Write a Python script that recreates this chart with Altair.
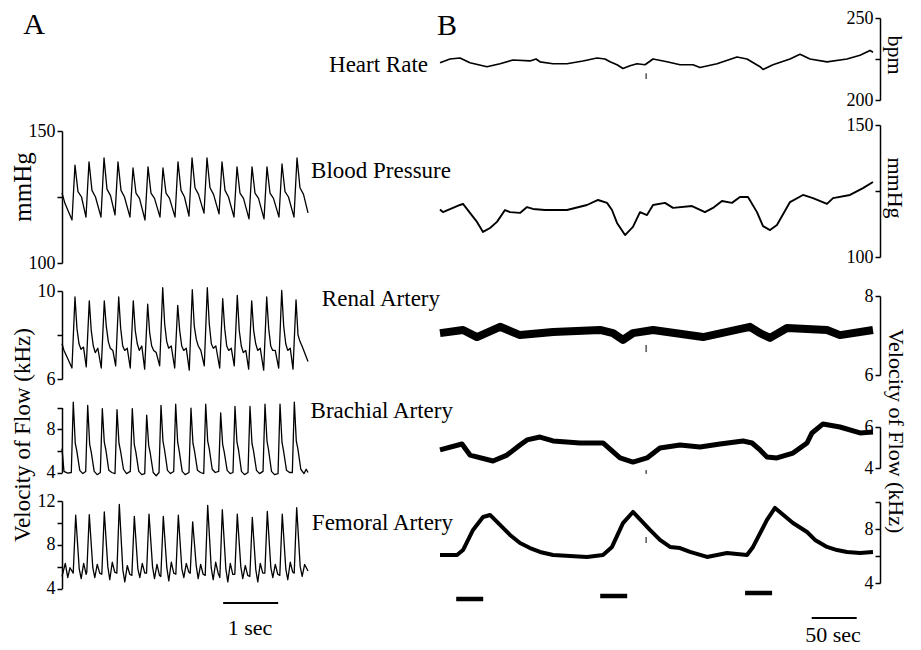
import altair as alt
import pandas as pd

FONT = "Liberation Serif"

# ---------------- Panel A (time in seconds) ----------------
bp_a_t = [0, 0.055, 0.182, 0.236, 0.291, 0.355, 0.436, 0.491, 0.545, 0.609, 0.709, 0.764, 0.818, 0.882,
          0.964, 1.018, 1.073, 1.136, 1.236, 1.291, 1.345, 1.409, 1.509, 1.564, 1.618, 1.682, 1.782, 1.836,
          1.891, 1.955, 2.055, 2.109, 2.164, 2.227, 2.309, 2.364, 2.418, 2.482, 2.582, 2.636, 2.691, 2.755,
          2.855, 2.909, 2.964, 3.027, 3.127, 3.182, 3.236, 3.300, 3.400, 3.455, 3.509, 3.573, 3.673, 3.727,
          3.782, 3.845, 3.945, 4.000, 4.055, 4.118, 4.218, 4.273, 4.327, 4.391, 4.473]
bp_a_v = [126.5, 122.5, 116.3, 137.1, 127.0, 125.0, 117.4, 138.3, 127.5, 125.0, 117.4, 139.8, 128.0, 125.5,
          118.2, 138.3, 127.5, 125.0, 117.4, 136.0, 126.5, 124.5, 116.3, 136.4, 126.5, 124.5, 117.4, 136.0,
          126.5, 124.5, 117.4, 138.3, 127.5, 125.0, 117.8, 139.8, 128.5, 126.0, 118.9, 139.8, 128.5, 126.0,
          118.6, 138.3, 127.5, 125.0, 117.4, 136.4, 126.5, 124.5, 116.7, 136.4, 126.5, 124.5, 116.7, 136.4,
          126.5, 124.5, 117.4, 137.5, 127.0, 125.0, 117.4, 139.8, 128.5, 126.0, 119.0]

renal_a_t = [0, 0.036, 0.091, 0.181,
             0.236, 0.272, 0.309, 0.345, 0.391, 0.441,
             0.496, 0.532, 0.569, 0.605, 0.651, 0.714,
             0.769, 0.805, 0.842, 0.878, 0.924, 0.976,
             1.031, 1.067, 1.104, 1.140, 1.186, 1.241,
             1.296, 1.332, 1.369, 1.405, 1.451, 1.503,
             1.558, 1.594, 1.631, 1.667, 1.713, 1.776,
             1.831, 1.867, 1.904, 1.940, 1.986, 2.049,
             2.104, 2.140, 2.177, 2.213, 2.259, 2.314,
             2.369, 2.405, 2.442, 2.478, 2.524, 2.587,
             2.642, 2.678, 2.715, 2.751, 2.797, 2.867,
             2.922, 2.958, 2.995, 3.031, 3.077, 3.132,
             3.187, 3.223, 3.260, 3.296, 3.342, 3.394,
             3.449, 3.485, 3.522, 3.558, 3.604, 3.667,
             3.722, 3.758, 3.795, 3.831, 3.877, 3.940,
             3.995, 4.031, 4.068, 4.104, 4.150, 4.200,
             4.255, 4.291, 4.328, 4.364, 4.473]
renal_a_v = [7.6, 7.3, 7.0, 6.5,
             9.73, 8.3, 7.6, 7.35, 7.45, 6.55,
             9.55, 8.2, 7.5, 7.2, 7.4, 6.5,
             9.55, 8.4, 7.7, 7.4, 7.3, 6.6,
             9.73, 8.3, 7.5, 7.3, 7.4, 6.5,
             9.55, 8.2, 7.6, 7.3, 7.5, 6.45,
             9.4, 8.1, 7.5, 7.3, 7.2, 6.6,
             10.15, 8.5, 7.7, 7.4, 7.5, 6.5,
             9.35, 8.2, 7.5, 7.3, 7.4, 6.4,
             10.06, 8.4, 7.8, 7.5, 7.3, 6.6,
             10.15, 8.5, 7.6, 7.4, 7.5, 6.5,
             9.65, 8.3, 7.5, 7.3, 7.4, 6.6,
             9.8, 8.2, 7.5, 7.2, 7.3, 6.45,
             9.55, 8.2, 7.6, 7.3, 7.4, 6.4,
             9.73, 8.3, 7.5, 7.3, 7.3, 6.5,
             10.03, 8.4, 7.6, 7.3, 7.4, 6.45,
             9.6, 8.0, 7.7, 7.5, 6.8]

brach_a_t = [0, 0.036, 0.1,
             0.169, 0.205, 0.241, 0.269, 0.323, 0.378,
             0.431, 0.467, 0.503, 0.531, 0.585, 0.640,
             0.697, 0.733, 0.769, 0.797, 0.851, 0.906,
             0.964, 1.0, 1.036, 1.064, 1.118, 1.173,
             1.242, 1.278, 1.314, 1.342, 1.396, 1.451,
             1.504, 1.54, 1.576, 1.604, 1.658, 1.713,
             1.764, 1.8, 1.836, 1.864, 1.918, 1.973,
             2.031, 2.067, 2.103, 2.131, 2.185, 2.240,
             2.309, 2.345, 2.381, 2.409, 2.463, 2.518,
             2.577, 2.613, 2.649, 2.677, 2.731, 2.786,
             2.849, 2.885, 2.921, 2.949, 3.003, 3.058,
             3.109, 3.145, 3.181, 3.209, 3.263, 3.318,
             3.382, 3.418, 3.454, 3.482, 3.536, 3.591,
             3.655, 3.691, 3.727, 3.755, 3.809, 3.864,
             3.928, 3.964, 4.000, 4.028, 4.082, 4.137,
             4.188, 4.224, 4.260, 4.288, 4.342, 4.400, 4.440, 4.473]
brach_a_v = [6.2, 4.1, 3.95,
             4.0, 10.5, 6.7, 6.0, 4.2, 3.9,
             4.1, 10.2, 6.6, 5.9, 4.1, 3.8,
             4.0, 9.9, 6.8, 6.1, 4.2, 4.0,
             3.9, 9.8, 6.7, 6.0, 4.3, 3.9,
             4.1, 9.9, 6.6, 5.9, 4.1, 3.8,
             3.9, 9.3, 6.5, 5.8, 4.0, 3.7,
             4.0, 10.2, 6.9, 6.1, 4.2, 3.9,
             4.1, 10.3, 6.8, 6.0, 4.1, 3.8,
             4.0, 9.95, 6.7, 6.0, 4.2, 4.0,
             3.9, 10.3, 6.9, 6.2, 4.3, 4.0,
             4.1, 9.5, 6.6, 5.9, 4.2, 3.9,
             4.0, 10.1, 6.8, 6.1, 4.1, 3.8,
             4.0, 10.1, 6.7, 6.0, 4.2, 3.9,
             4.1, 10.3, 6.9, 6.1, 4.1, 3.8,
             3.9, 10.3, 6.8, 6.0, 4.2, 4.0,
             4.0, 10.5, 6.9, 6.2, 4.3, 3.9, 4.3, 4.0]

fem_a_t = [0, 0.06, 0.105, 0.145,
           0.204, 0.249, 0.313, 0.349, 0.394, 0.439,
           0.451, 0.496, 0.560, 0.596, 0.641, 0.686,
           0.724, 0.769, 0.833, 0.869, 0.914, 0.959,
           0.997, 1.042, 1.106, 1.142, 1.187, 1.232,
           1.270, 1.315, 1.379, 1.415, 1.460, 1.505,
           1.537, 1.582, 1.646, 1.682, 1.727, 1.772,
           1.797, 1.842, 1.906, 1.942, 1.987, 2.032,
           2.070, 2.115, 2.179, 2.215, 2.260, 2.305,
           2.331, 2.376, 2.440, 2.476, 2.521, 2.566,
           2.604, 2.649, 2.713, 2.749, 2.794, 2.839,
           2.870, 2.915, 2.979, 3.015, 3.060, 3.105,
           3.142, 3.187, 3.251, 3.287, 3.332, 3.377,
           3.415, 3.460, 3.524, 3.560, 3.605, 3.650,
           3.688, 3.733, 3.797, 3.833, 3.878, 3.923,
           3.960, 4.005, 4.069, 4.105, 4.150, 4.195,
           4.222, 4.267, 4.331, 4.367, 4.412, 4.473]
fem_a_v = [5.1, 6.3, 5.0, 5.9,
           5.4, 10.7, 5.8, 4.9, 6.3, 5.3,
           5.5, 10.75, 5.9, 5.0, 6.2, 5.4,
           5.3, 11.0, 6.0, 4.8, 6.4, 5.5,
           5.4, 11.7, 5.7, 4.6, 6.1, 5.3,
           5.2, 10.6, 5.8, 5.0, 6.3, 5.4,
           5.4, 10.8, 6.0, 4.9, 6.2, 5.2,
           5.1, 10.6, 5.9, 4.7, 6.4, 5.4,
           5.3, 10.7, 5.8, 5.0, 6.3, 5.5,
           5.4, 10.1, 6.1, 4.9, 6.2, 5.3,
           5.2, 11.6, 5.9, 4.8, 6.4, 5.4,
           5.0, 11.2, 5.8, 4.6, 6.3, 5.3,
           5.3, 10.8, 6.0, 4.9, 6.1, 5.2,
           5.1, 10.5, 5.7, 4.6, 6.3, 5.4,
           5.4, 11.05, 5.9, 5.0, 6.2, 5.3,
           5.2, 10.8, 5.8, 4.8, 6.4, 5.5,
           5.4, 11.4, 6.0, 5.1, 6.2, 5.6]

scalebar_a = [2.93, 3.93]          # 1 s

# ---------------- Panel B (time in seconds) ----------------
hr_t = [0, 11.1, 22.2, 33.3, 52.2, 66.7, 81.1, 100, 106.7, 111.1, 125.6, 141.1, 158.9, 174.4, 183.3,
        188.9, 196.7, 203.3, 211.1, 218.9, 227.8, 236.7, 252.2, 266.7, 281.1, 288.9, 307.8, 330, 341.1,
        355.6, 358.9, 370, 388.9, 400, 411.1, 430, 452.2, 466.7, 477.8, 481.1]
hr_v = [222.7, 225.0, 225.6, 222.7, 220.3, 222.1, 224.4, 223.8, 225.0, 223.3, 222.1, 222.1, 223.8, 225.6,
        225.0, 223.3, 221.5, 219.2, 220.9, 222.1, 221.5, 225.0, 223.3, 221.5, 221.5, 219.8, 222.1, 226.2,
        225.0, 220.3, 218.6, 221.5, 225.0, 227.9, 225.0, 223.3, 225.0, 227.3, 230.2, 229.1]

bp_b_t = [0, 3.3, 22.2, 25.6, 33.3, 41.1, 47.8, 55.6, 63.3, 72.2, 77.8, 88.9, 96.7, 103.3, 116.7, 141.1,
          163.3, 175.6, 185.6, 191.1, 196.7, 205.6, 214.4, 222.2, 230, 236.7, 250, 258.9, 280, 294.4, 303.3,
          313.3, 324.4, 333.3, 342.2, 352.2, 358.9, 366.7, 374.4, 388.9, 403.3, 414.4, 430, 436.7, 455.6,
          470, 481.1]
bp_b_v = [118.0, 117.0, 119.7, 120.1, 116.7, 113.3, 109.5, 111.0, 113.3, 117.8, 117.0, 116.7, 118.9, 118.2,
          117.8, 117.8, 119.7, 121.6, 120.5, 117.8, 112.9, 108.3, 111.4, 117.0, 115.9, 119.7, 120.5, 118.6,
          119.3, 117.0, 118.6, 121.2, 120.5, 122.7, 122.7, 117.0, 111.7, 110.2, 112.1, 120.8, 123.5, 122.3,
          120.1, 122.3, 123.5, 126.1, 128.4]

renal_b_t = [0, 25.6, 41.1, 66.7, 88.9, 125.6, 177.8, 192.2, 203.3, 214.4, 236.7, 292.2, 318.9, 344.4,
             355.6, 366.7, 385.6, 430, 444.4, 481.1]
renal_b_v = [7.06, 7.14, 6.96, 7.22, 7.01, 7.09, 7.14, 7.06, 6.89, 7.06, 7.14, 6.96, 7.09, 7.22, 7.06,
             6.94, 7.19, 7.14, 7.01, 7.14]

brach_b_t = [0, 24.4, 33.3, 58.9, 74.4, 88.9, 96.7, 111.1, 125.6, 155.6, 181.1, 200, 214.4, 230, 244.4,
             266.7, 288.9, 311.1, 336.7, 346.7, 355.6, 363.3, 374.4, 392.2, 400, 407.8, 413.3, 425.6, 444.4,
             466.7, 481.1]
brach_b_v = [4.88, 5.17, 4.63, 4.34, 4.63, 5.12, 5.37, 5.51, 5.32, 5.22, 5.22, 4.49, 4.29, 4.49, 4.98,
             5.12, 5.02, 5.17, 5.32, 5.22, 4.88, 4.54, 4.49, 4.73, 4.98, 5.22, 5.71, 6.15, 6.0, 5.71, 5.76]

fem_b_t = [0, 18.9, 25.6, 36.7, 47.8, 55.6, 66.7, 77.8, 88.9, 100, 111.1, 125.6, 163.3, 181.1, 191.1, 203.3,
           214.4, 233.3, 244.4, 255.6, 266.7, 277.8, 296.7, 318.9, 341.1, 347.8, 363.3, 372.2, 392.2, 407.8,
           416.7, 430, 441.1, 452.2, 466.7, 481.1]
fem_b_v = [6.07, 6.07, 6.44, 7.93, 8.89, 9.04, 8.30, 7.56, 6.96, 6.59, 6.30, 6.07, 5.93, 6.07, 6.67, 8.44,
           9.26, 7.93, 7.19, 6.67, 6.59, 6.30, 5.93, 6.22, 6.07, 6.67, 8.67, 9.56, 8.44, 7.78, 7.19, 6.67,
           6.44, 6.30, 6.22, 6.30]

# event marker seen in every panel-B trace (time, low, high)
marker_t = 229
hr_marker = [212.8, 216.3]
renal_marker = [6.58, 6.76]
brach_marker = [3.71, 3.9]
fem_marker = [6.96, 7.41]

stim_start = [18, 178, 339]
stim_end = [48, 208, 369]
scalebar_b = [413, 463]            # 50 s

# ---------------- helpers ----------------
XA = alt.Scale(domain=[0, 4.5], range=[0, 247.5], nice=False, zero=False)
XB = alt.Scale(domain=[0, 500], range=[378, 828], nice=False, zero=False)


def yaxis(ticks, labels, offset):
    return alt.Axis(orient="left", offset=offset, values=ticks, title=None, grid=False, format="d",
                    labelExpr=f"indexof({labels}, datum.value) >= 0 ? datum.label : ''",
                    domainColor="black", domainWidth=1.5, tickColor="black", tickWidth=1.5,
                    tickSize=5, labelFont=FONT, labelFontSize=18, labelColor="black",
                    labelPadding=2, labelOverlap=False, labelFlush=False)


def yscale(ydom, yrange):
    return alt.Scale(domain=ydom, range=yrange, nice=False, zero=False)


def trace(t, v, xs, ydom, yrange, ticks, labels, offset, sw):
    df = pd.DataFrame({"t": t, "v": v})
    return alt.Chart(df).mark_line(color="black", strokeWidth=sw, strokeJoin="round").encode(
        x=alt.X("t:Q", scale=xs, axis=None),
        y=alt.Y("v:Q", scale=yscale(ydom, yrange), axis=yaxis(ticks, labels, offset)),
        order="t:Q",
    )


def marker(lohi, ydom, yrange):
    df = pd.DataFrame({"t": [marker_t], "lo": [lohi[0]], "hi": [lohi[1]]})
    return alt.Chart(df).mark_rule(color="black", strokeWidth=1).encode(
        x=alt.X("t:Q", scale=XB, axis=None),
        y=alt.Y("lo:Q", scale=yscale(ydom, yrange), axis=None),
        y2="hi:Q",
    )


def label(text, x, y, size=23, align="right", angle=0, baseline="alphabetic"):
    return alt.Chart(alt.Data(values=[{}])).mark_text(
        text=text, font=FONT, fontSize=size, align=align, baseline=baseline, angle=angle, color="black"
    ).encode(x=alt.value(x), y=alt.value(y))


def bar(starts, ends, xs, y, sw):
    df = pd.DataFrame({"s": starts, "e": ends})
    return alt.Chart(df).mark_rule(color="black", strokeWidth=sw).encode(
        x=alt.X("s:Q", scale=xs, axis=None), x2="e:Q", y=alt.value(y))


OB = -818  # panel B axes sit at the right edge

R_BPA, R_RA, R_BA, R_FA = [245, 113], [361, 273], [454.5, 389.5], [570.5, 483]
R_HR, R_BPB, R_RB, R_BB, R_FB = [82, 0], [239, 107], [357, 278], [450, 409], [565, 484]

layers = [
    trace(bp_a_t, bp_a_v, XA, [100, 150], R_BPA, [100, 125, 150], [100, 150], 0, 1.3),
    trace(renal_a_t, renal_a_v, XA, [6, 10], R_RA, [6, 8, 10], [6, 10], 0, 1.3),
    trace(brach_a_t, brach_a_v, XA, [4, 10], R_BA, [4, 6, 8, 10], [4, 8], 0, 1.3),
    trace(fem_a_t, fem_a_v, XA, [4, 12], R_FA, [4, 6, 8, 10, 12], [4, 8, 12], 0, 1.3),
    trace(hr_t, hr_v, XB, [200, 250], R_HR, [200, 225, 250], [200, 250], OB, 1.7),
    trace(bp_b_t, bp_b_v, XB, [100, 150], R_BPB, [100, 125, 150], [100, 150], OB, 1.9),
    trace(renal_b_t, renal_b_v, XB, [6, 8], R_RB, [6, 7, 8], [6, 8], OB, 8),
    trace(brach_b_t, brach_b_v, XB, [4, 6], R_BB, [4, 5, 6], [4, 6], OB, 5),
    trace(fem_b_t, fem_b_v, XB, [4, 10], R_FB, [4, 6, 8, 10], [4, 8], OB, 4),
    marker(hr_marker, [200, 250], R_HR),
    marker(renal_marker, [6, 8], R_RB),
    marker(brach_marker, [4, 6], R_BB),
    marker(fem_marker, [4, 10], R_FB),
    bar([scalebar_a[0]], [scalebar_a[1]], XA, 585, 2),
    bar([scalebar_b[0]], [scalebar_b[1]], XB, 600, 2),
    bar(stim_start[:1], stim_end[:1], XB, 581, 4.5),
    bar(stim_start[1:2], stim_end[1:2], XB, 578, 4.5),
    bar(stim_start[2:], stim_end[2:], XB, 575, 4.5),
    label("A", -28, 16, size=30, align="center"),
    label("B", 385, 17, size=30, align="center"),
    label("Heart Rate", 366, 54),
    label("Blood Pressure", 389, 160),
    label("Renal Artery", 378, 288),
    label("Brachial Artery", 391, 400),
    label("Femoral Artery", 391, 512),
    label("1 sec", 188, 617, size=22, align="center"),
    label("50 sec", 771, 624, size=22, align="center"),
    label("mmHg", -39, 169, size=25, align="center", angle=270, baseline="middle"),
    label("Velocity of Flow (kHz)", -39, 417, size=23, align="center", angle=270, baseline="middle"),
    label("bpm", 833, 37, size=22, align="center", angle=90, baseline="middle"),
    label("mmHg", 833, 170, size=22, align="center", angle=90, baseline="middle"),
    label("Velocity of Flow (kHz)", 834, 413, size=22, align="center", angle=90, baseline="middle"),
]

chart = alt.layer(*layers).resolve_scale(x="independent", y="independent").properties(
    width=818, height=630,
    padding={"left": 54, "top": 10, "right": 33, "bottom": 2},
    autosize=alt.AutoSizeParams(type="none"),
    background="white",
).configure_view(stroke=None)

chart.save("out.html", embed_options={"renderer": "svg", "actions": False})
